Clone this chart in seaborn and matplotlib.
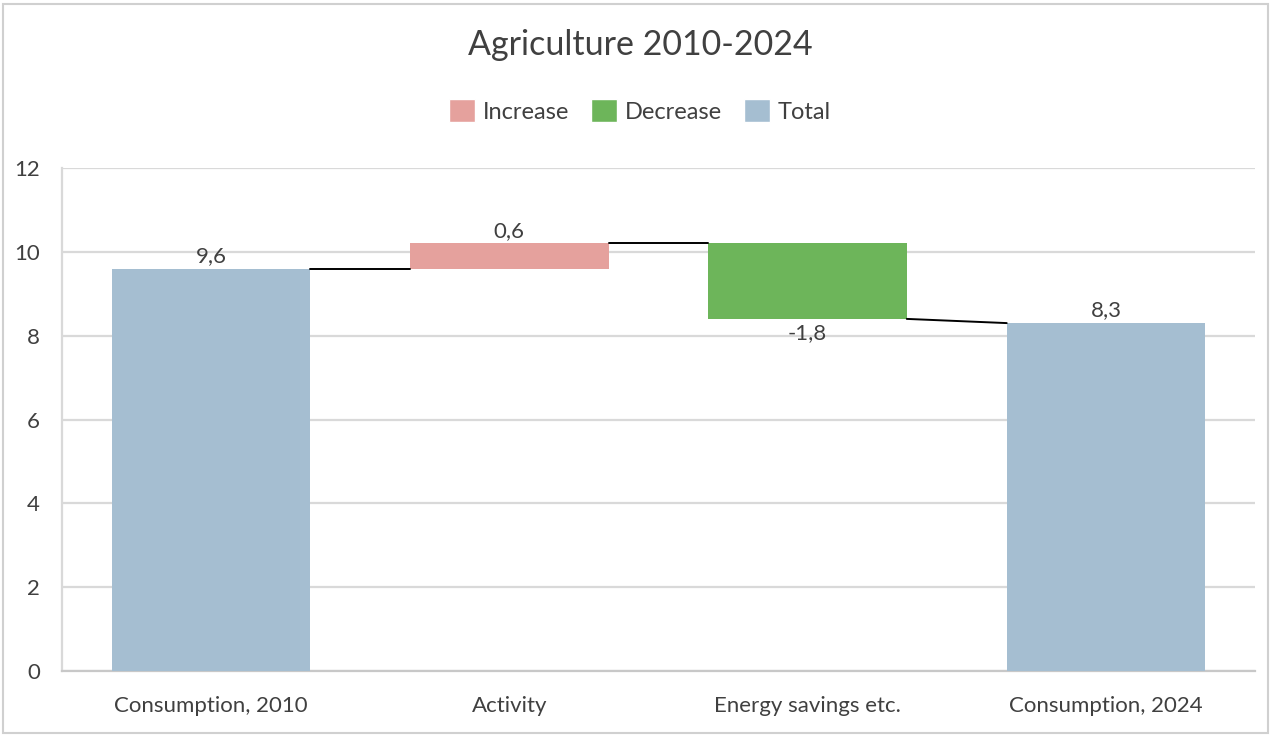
import matplotlib
matplotlib.use("Agg")
import matplotlib.pyplot as plt
from matplotlib.patches import Patch, Rectangle
import seaborn as sns
import numpy as np

# data
categories = ["Consumption, 2010", "Activity", "Energy savings etc.", "Consumption, 2024"]
changes = [9.6, 0.6, -1.8, 8.3]
kinds = ["Total", "Increase", "Decrease", "Total"]
labels = ["9,6", "0,6", "-1,8", "8,3"]

colors = {"Increase": "#E5A19D", "Decrease": "#6DB55A", "Total": "#A5BED1"}
text_col = "#404040"

# running levels for the floating bars
bottoms = []
tops = []
level = 0.0
for val, kind in zip(changes, kinds):
    if kind == "Total":
        bottoms.append(0.0)
        tops.append(val)
        level = val
    else:
        new = level + val
        bottoms.append(min(level, new))
        tops.append(max(level, new))
        level = new
heights = [t - b for t, b in zip(tops, bottoms)]

sns.set_style("white")
plt.rcParams["font.family"] = ["Lato", "DejaVu Sans"]

fig = plt.figure(figsize=(12.8, 7.39), dpi=100)
ax = fig.add_axes([62 / 1280, 1 - 671 / 739, (1255 - 62) / 1280, (671 - 168) / 739])

bar_w = 0.665
sns.barplot(x=categories, y=heights, hue=categories,
            palette=[colors[k] for k in kinds], width=bar_w,
            legend=False, ax=ax, zorder=3, saturation=1, linewidth=0)

# move the bars up to their floating positions
for patch, b in zip(ax.patches, bottoms):
    patch.set_y(b)

# connector lines: end level of one bar to start level of the next
ends = [bottoms[i] if k == "Decrease" else tops[i] for i, k in enumerate(kinds)]
starts = [bottoms[i] if k == "Increase" else tops[i] for i, k in enumerate(kinds)]
for i in range(len(categories) - 1):
    ax.plot([i + bar_w / 2, i + 1 - bar_w / 2], [ends[i], starts[i + 1]],
            color="black", lw=1.4, zorder=4)

# data labels
for i, (lab, kind) in enumerate(zip(labels, kinds)):
    if kind == "Decrease":
        ax.text(i, bottoms[i] - 0.1, lab, ha="center", va="top", fontsize=16, color=text_col, zorder=5)
    else:
        ax.text(i, tops[i] + 0.06, lab, ha="center", va="bottom", fontsize=16, color=text_col, zorder=5)

ax.set_ylim(0, 12)
ax.set_xlim(-0.5, 3.5)
ax.set_yticks(np.arange(0, 13, 2))
ax.yaxis.grid(True, color="#D9D9D9", lw=1.6, zorder=0)
ax.set_axisbelow(True)
for s in ["top", "right"]:
    ax.spines[s].set_visible(False)
ax.spines["left"].set_color("#D9D9D9")
ax.spines["left"].set_linewidth(1.6)
ax.spines["bottom"].set_color("#C8C8C8")
ax.spines["bottom"].set_linewidth(1.6)
ax.tick_params(axis="both", length=0, labelsize=16, labelcolor=text_col)
ax.tick_params(axis="x", pad=18)
ax.tick_params(axis="y", pad=16)
ax.set_xlabel("")
ax.set_ylabel("")

fig.text(0.5, 1 - 45 / 739, "Agriculture 2010-2024", ha="center", va="center",
         fontsize=24.5, color=text_col)

handles = [Patch(facecolor=colors[k], label=k) for k in ["Increase", "Decrease", "Total"]]
fig.legend(handles=handles, loc="center", bbox_to_anchor=(0.5, 1 - 111 / 739), ncol=3,
           frameon=False, fontsize=17, handlelength=1.1, handleheight=1.1,
           handletextpad=0.35, columnspacing=0.9, labelcolor=text_col)

# chart area border
fig.patches.append(Rectangle((3 / 1280, 1 - 733 / 739), 1265 / 1280, 729 / 739,
                             transform=fig.transFigure, fill=False,
                             edgecolor="#D0D0D0", lw=1.5))

fig.savefig("out.png", dpi=100)
